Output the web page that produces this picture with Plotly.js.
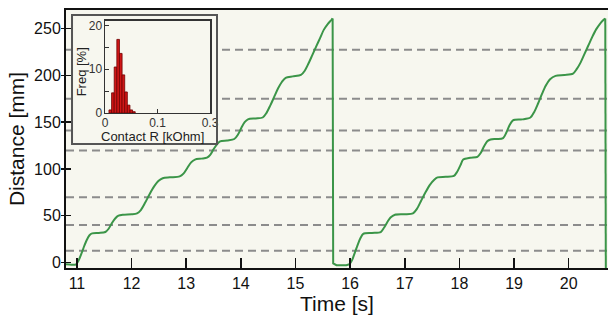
<!DOCTYPE html>
<html>
<head>
<meta charset="utf-8">
<script src="https://cdn.plot.ly/plotly-3.0.1.min.js"></script>
<style>html,body{margin:0;padding:0;background:#fff}#chart{width:608px;height:320px}</style>
</head>
<body>
<div id="chart"></div>
<script>
// ---- main curve: first ramp (time [s], distance [mm]) ----
const timeRise1 = [10.80,10.90,10.98,11.03,11.08,11.13,11.18,11.23,11.28,11.40,11.52,11.58,11.64,11.70,11.76,11.85,12.00,12.10,12.17,12.25,12.33,12.41,12.49,12.57,12.70,12.88,12.95,13.02,13.09,13.16,13.28,13.38,13.44,13.50,13.56,13.62,13.75,13.88,13.95,14.01,14.07,14.13,14.27,14.40,14.47,14.54,14.61,14.68,14.75,14.82,14.95,15.10,15.17,15.24,15.31,15.38,15.45,15.52,15.59,15.66,15.68];
const distRise1 = [-2,-2.5,-2.3,2,9,17,24,29,31,31.5,32.5,36,42,47,50,51,51.5,52.5,56,64,73,81,87,90,91,92,95,101,107,110,111,112,115,121,126,129.5,130.5,132,137,144,150,153,154,155,160,168,177,186,193,197.5,199,200.5,205,213,222,231,240,249,255,259.5,261];
// ---- reset to zero ----
const timeReset1 = [15.68,15.69,15.75,15.85,15.93,15.99];
const distReset1 = [261,-1,-3,-3.3,-3,-2];
// ---- second ramp ----
const timeRise2 = [15.99,16.04,16.09,16.14,16.19,16.24,16.40,16.56,16.62,16.68,16.74,16.82,17.00,17.15,17.22,17.30,17.38,17.46,17.54,17.60,17.75,17.90,17.96,18.02,18.07,18.20,18.33,18.39,18.45,18.51,18.57,18.68,18.80,18.86,18.92,18.98,19.15,19.30,19.37,19.44,19.51,19.58,19.66,19.76,19.92,20.08,20.15,20.22,20.29,20.36,20.43,20.50,20.57,20.64,20.67];
const distRise2 = [-2,3,11,19,26,30.5,31.5,32.5,37,43,48,51,51.5,52.5,57,66,75,83,88.5,91,91.5,92.5,97,104,110,112,113,117,124,129.5,131.5,132,133,139,147,152,153,155,161,170,180,189,196,199.5,200.5,202,207,214,223,232,241,249,255,259.5,261];
const timeReset2 = [20.67,20.68];
const distReset2 = [261,-6];
// ---- reference levels (dashed) ----
const refLevels = [12.5, 40, 69.6, 119.6, 141, 175, 227.5];
// ---- axis ticks ----
const xTicks = [11,12,13,14,15,16,17,18,19,20];
const yTicks = [0,50,100,150,200,250];
// ---- inset histogram: contact resistance [kOhm] vs frequency [%] ----
const histR = [0.010,0.015,0.020,0.025,0.030,0.035,0.040,0.045,0.050,0.055];
const histFreq = [0.7,4.6,10.5,16.8,13.6,8.7,4.8,1.8,0.7,0.3];
const insetXTickVals = [0, 0.1, 0.2];
const insetXTickText = ['0', '0.1', '0.3'];
const insetYTicks = [0, 10, 20];
const insetYMinor = [5, 15];

const FONT = 'Liberation Sans, Arial, Helvetica, sans-serif';
const GREEN = '#3b9548';

const greenLine = (x, y, shape) => ({
  x: x, y: y, type: 'scatter', mode: 'lines', xaxis: 'x', yaxis: 'y',
  line: {color: GREEN, width: 2, shape: shape, smoothing: 0.8}, hoverinfo: 'skip', showlegend: false
});

const data = [
  greenLine(timeRise1, distRise1, 'spline'),
  greenLine(timeReset1, distReset1, 'linear'),
  greenLine(timeRise2, distRise2, 'spline'),
  greenLine(timeReset2, distReset2, 'linear'),
  {x: [], y: [], type: 'scatter', mode: 'lines', xaxis: 'x', yaxis: 'y4', showlegend: false},
  {x: [], y: [], type: 'scatter', mode: 'lines', xaxis: 'x2', yaxis: 'y2', showlegend: false},
  {x: histR, y: histFreq, type: 'bar', xaxis: 'x3', yaxis: 'y3', width: 0.005,
   marker: {color: '#d01616', line: {color: '#6e0000', width: 0.8}}, showlegend: false}
];

const shapes = refLevels.map(v => ({
  type: 'line', xref: 'paper', yref: 'y', x0: 0, x1: 1, y0: v, y1: v, layer: 'below',
  line: {color: '#8c8c8c', width: 2, dash: '8px,5px'}
}));
shapes.push({type: 'rect', xref: 'paper', yref: 'paper', x0: 0.0111, x1: 0.2786, y0: 0.4806, y1: 0.9806,
  layer: 'above', line: {color: '#555', width: 2}, fillcolor: 'rgba(0,0,0,0)'});

const layout = {
  width: 608, height: 320,
  margin: {l: 66, r: 0, t: 10, b: 52},
  paper_bgcolor: '#ffffff', plot_bgcolor: '#f7f7ef',
  font: {family: FONT, color: '#111'},
  showlegend: false,
  xaxis: {domain: [0, 1], range: [10.8, 20.72], tickvals: xTicks, ticks: 'inside', ticklen: 10, tickwidth: 1.5,
    tickcolor: '#111', showline: true, linecolor: '#111', linewidth: 2, mirror: true, showgrid: false, zeroline: false,
    tickfont: {size: 16, family: FONT, color: '#111'},
    title: {text: 'Time [s]', font: {size: 21, family: FONT, color: '#111'}, standoff: 4}},
  yaxis: {domain: [0, 1], range: [-6, 270], tickvals: yTicks, ticks: 'inside', ticklen: 5, tickwidth: 1.5,
    tickcolor: '#111', showline: true, linecolor: '#111', linewidth: 2, showgrid: false, zeroline: false,
    tickfont: {size: 16, family: FONT, color: '#111'},
    title: {text: 'Distance [mm]', font: {size: 21, family: FONT, color: '#111'}, standoff: 4}},
  yaxis4: {overlaying: 'y', side: 'left', anchor: 'x', range: [-6, 270], tickvals: yTicks, ticks: 'outside',
    ticklen: 4, tickwidth: 1.5, tickcolor: '#111', showticklabels: false, showline: false, showgrid: false, zeroline: false},
  xaxis2: {domain: [0.0111, 0.2786], anchor: 'y2', visible: false, range: [0, 1], fixedrange: true},
  yaxis2: {domain: [0.4806, 0.9806], anchor: 'x2', visible: false, range: [0, 1], fixedrange: true},
  xaxis3: {domain: [0.072, 0.2657], anchor: 'y3', range: [0, 0.2], tickvals: insetXTickVals, ticktext: insetXTickText,
    ticks: 'inside', ticklen: 4, tickcolor: '#333', showline: true, linecolor: '#333', linewidth: 1.5, mirror: true,
    ticklabelstandoff: -2,
    showgrid: false, zeroline: false, tickfont: {size: 12, family: FONT, color: '#333'}},
  yaxis3: {domain: [0.6008, 0.9574], anchor: 'x3', range: [0, 21], tickvals: insetYTicks,
    ticks: 'inside', ticklen: 4, tickcolor: '#333', showline: true, linecolor: '#333', linewidth: 1.5, mirror: true,
    ticklabelstandoff: -1,
    minor: {tickvals: insetYMinor, ticks: 'inside', ticklen: 4, tickcolor: '#333'},
    showgrid: false, zeroline: false, tickfont: {size: 12, family: FONT, color: '#333'}},
  annotations: [
    {text: 'Contact R [kOhm]', xref: 'paper', yref: 'paper', x: 0.1605, y: 0.508, xanchor: 'center', yanchor: 'middle',
     showarrow: false, font: {size: 13, family: FONT, color: '#222'}},
    {text: 'Freq [%]', xref: 'paper', yref: 'paper', x: 0.0285, y: 0.76, xanchor: 'center', yanchor: 'middle',
     textangle: -90, showarrow: false, font: {size: 13, family: FONT, color: '#222'}}
  ],
  shapes: shapes
};

Plotly.newPlot('chart', data, layout, {staticPlot: true, displayModeBar: false});
</script>
</body>
</html>
